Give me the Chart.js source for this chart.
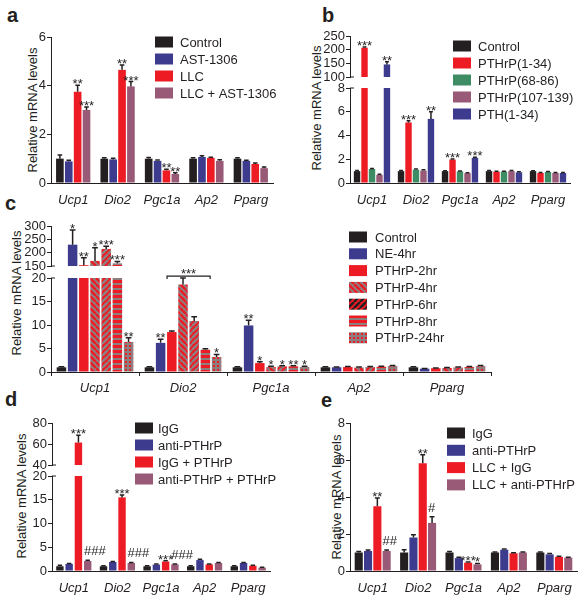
<!DOCTYPE html>
<html>
<head>
<meta charset="utf-8">
<script src="https://cdn.jsdelivr.net/npm/chart.js@4.4.0/dist/chart.umd.min.js"></script>
<style>
  body { margin: 0; background: #fff; width: 587px; height: 600px; position: relative; overflow: hidden;
         font-family: "Liberation Sans", Arial, sans-serif; color: #231f20; }
  canvas { position: absolute; }
  .letter { position: absolute; font-weight: bold; font-size: 20px; line-height: 20px; }
  .ytitle { position: absolute; font-size: 13px; white-space: nowrap; transform: translate(-50%, -50%) rotate(-90deg); }
</style>
</head>
<body>
<div class="letter" style="left:7px;top:5px">a</div>
<div class="letter" style="left:322px;top:5px">b</div>
<div class="letter" style="left:5px;top:193px">c</div>
<div class="letter" style="left:5px;top:389px">d</div>
<div class="letter" style="left:321px;top:390px">e</div>

<div class="ytitle" style="left:32px;top:110px">Relative mRNA levels</div>
<div class="ytitle" style="left:316px;top:108px">Relative mRNA levels</div>
<div class="ytitle" style="left:16px;top:293px">Relative mRNA levels</div>
<div class="ytitle" style="left:21px;top:496px">Relative mRNA levels</div>
<div class="ytitle" style="left:336px;top:497px">Relative mRNA levels</div>

<canvas id="ca" width="290" height="212" style="left:0;top:0"></canvas>
<canvas id="cbBot" width="297" height="212" style="left:290px;top:0"></canvas>
<canvas id="cbTop" width="297" height="212" style="left:290px;top:0"></canvas>
<canvas id="ccBot" width="587" height="200" style="left:0;top:200px"></canvas>
<canvas id="ccTop" width="587" height="200" style="left:0;top:200px"></canvas>
<canvas id="cdBot" width="290" height="195" style="left:0;top:405px"></canvas>
<canvas id="cdTop" width="290" height="195" style="left:0;top:405px"></canvas>
<canvas id="ce" width="297" height="195" style="left:290px;top:405px"></canvas>

<script>
const genes = ['Ucp1', 'Dio2', 'Pgc1a', 'Ap2', 'Pparg'];

// panel a
const aLabels = ['Control', 'AST-1306', 'LLC', 'LLC + AST-1306'];
const aControl = [1.0, 1.0, 1.0, 1.0, 1.0];
const aAst = [0.89, 0.97, 0.91, 1.07, 0.91];
const aLlc = [3.75, 4.65, 0.52, 1.03, 0.78];
const aLlcAst = [3.0, 3.97, 0.37, 0.91, 0.61];
const aControlErr = [0.15, 0.04, 0.05, 0.04, 0.04];
const aAstErr = [0.04, 0.05, 0.04, 0.05, 0.03];
const aLlcErr = [0.27, 0.2, 0.04, 0.03, 0.04];
const aLlcAstErr = [0.12, 0.2, 0.05, 0.05, 0.05];
const aLlcMarks = ['**', '**', '**', '', ''];
const aLlcAstMarks = ['***', '***', '**', '', ''];

// panel b
const bLabels = ['Control', 'PTHrP(1-34)', 'PTHrP(68-86)', 'PTHrP(107-139)', 'PTH(1-34)'];
const bControl = [1.0, 1.0, 1.0, 1.0, 1.0];
const b134 = [207, 5.1, 1.97, 0.95, 0.84];
const b6886 = [1.18, 1.12, 0.98, 0.96, 0.93];
const b107 = [0.68, 1.05, 0.83, 1.0, 0.84];
const bPth = [146, 5.4, 2.12, 0.9, 0.84];
const bControlErr = [0.05, 0.06, 0.04, 0.05, 0.04];
const b134Err = [3, 0.15, 0.06, 0.05, 0.04];
const b6886Err = [0.05, 0.05, 0.04, 0.04, 0.04];
const b107Err = [0.05, 0.06, 0.04, 0.05, 0.04];
const bPthErr = [10, 0.6, 0.05, 0.04, 0.04];
const b134Marks = ['***', '***', '***', '', ''];
const bPthMarks = ['**', '**', '***', '', ''];

// panel c
const cLabels = ['Control', 'NE-4hr', 'PTHrP-2hr', 'PTHrP-4hr', 'PTHrP-6hr', 'PTHrP-8hr', 'PTHrP-24hr'];
const cControl = [1.0, 1.0, 1.0, 1.0, 1.0];
const cNe = [230, 6.2, 9.9, 1.0, 0.7];
const c2hr = [153, 8.5, 1.9, 1.05, 0.8];
const c4hr = [169, 18.6, 1.05, 0.95, 0.85];
const c6hr = [214, 10.85, 1.2, 1.05, 0.95];
const c8hr = [160, 4.75, 1.2, 1.1, 1.05];
const c24hr = [6.4, 3.2, 1.06, 1.25, 1.25];
const cControlErr = [0.1, 0.1, 0.1, 0.1, 0.1];
const cNeErr = [55, 0.75, 1.1, 0.05, 0.05];
const c2hrErr = [28, 0.2, 0.3, 0.1, 0.05];
const c4hrErr = [49, 1.4, 0.15, 0.1, 0.1];
const c6hrErr = [10, 0.9, 0.15, 0.1, 0.1];
const c8hrErr = [7, 0.2, 0.15, 0.1, 0.1];
const c24hrErr = [0.9, 0.55, 0.15, 0.15, 0.15];
const cNeMarks = ['*', '**', '**', '', ''];
const c2hrMarks = ['**', '', '*', '', ''];
const c4hrMarks = ['*', '', '*', '', ''];
const c6hrMarks = ['***', '', '*', '', ''];
const c8hrMarks = ['***', '', '**', '', ''];
const c24hrMarks = ['**', '*', '*', '', ''];

// panel d
const dLabels = ['IgG', 'anti-PTHrP', 'IgG + PTHrP', 'anti-PTHrP + PTHrP'];
const dIgg = [1.0, 1.0, 1.0, 1.0, 1.0];
const dAnti = [1.5, 1.9, 1.35, 2.3, 1.7];
const dIggP = [61.4, 15.5, 2.0, 1.4, 1.1];
const dAntiP = [2.1, 1.7, 1.4, 1.7, 0.7];
const dIggErr = [0.2, 0.1, 0.1, 0.1, 0.1];
const dAntiErr = [0.1, 0.1, 0.1, 0.15, 0.1];
const dIggPErr = [7, 0.5, 0.15, 0.1, 0.1];
const dAntiPErr = [0.15, 0.1, 0.1, 0.1, 0.1];
const dIggPMarks = ['***', '***', '***', '', ''];
const dAntiPMarks = ['###', '###', '###', '', ''];

// panel e
const eLabels = ['IgG', 'anti-PTHrP', 'LLC + IgG', 'LLC + anti-PTHrP'];
const eIgg = [1.0, 1.0, 1.0, 1.0, 1.0];
const eAnti = [1.08, 1.81, 0.7, 1.15, 0.9];
const eLlc = [3.5, 5.83, 0.45, 0.96, 0.76];
const eLlcAnti = [1.08, 2.6, 0.36, 1.0, 0.72];
const eIggErr = [0.05, 0.15, 0.05, 0.03, 0.03];
const eAntiErr = [0.05, 0.15, 0.04, 0.04, 0.04];
const eLlcErr = [0.45, 0.45, 0.04, 0.03, 0.04];
const eLlcAntiErr = [0.06, 0.33, 0.05, 0.03, 0.03];
const eLlcMarks = ['**', '**', '***', '', ''];
const eLlcAntiMarks = ['##', '#', '*', '', ''];

const ink = '#231f20';
const navy = '#3d3b8e';
const red = '#ed1c24';
const mauve = '#995a77';
const green = '#3e8c64';
const grey = '#8d7f80';
const FONT = '"Liberation Sans", Arial, sans-serif';

// fill patterns for the PTHrP time course
function tile(size, draw) {
  const c = document.createElement('canvas');
  c.width = size; c.height = size;
  const g = c.getContext('2d');
  draw(g, size);
  return g.createPattern(c, 'repeat');
}
function diag(base, line, up) {
  return tile(6, (g, s) => {
    g.fillStyle = base; g.fillRect(0, 0, s, s);
    g.strokeStyle = line; g.lineWidth = 2.4;
    g.beginPath();
    for (let k = -1; k <= 1; k++) {
      if (up) { g.moveTo(k * s, s); g.lineTo(k * s + s, 0); }
      else { g.moveTo(k * s, 0); g.lineTo(k * s + s, s); }
    }
    g.stroke();
  });
}
const hStripes = tile(5, (g, s) => { g.fillStyle = red; g.fillRect(0, 0, s, s); g.fillStyle = grey; g.fillRect(0, 3, s, 2); });
const dots = tile(4, (g, s) => { g.fillStyle = grey; g.fillRect(0, 0, s, s); g.fillStyle = red; g.fillRect(1, 1, 2, 2); });

function ds(label, data, color, errors, marks, legendFill) {
  return { label: label, data: data, backgroundColor: color, errors: errors, marks: marks,
           legendFill: legendFill, clip: 0, borderWidth: 0 };
}

// error bars and significance marks
const errorBars = {
  id: 'errorBars',
  afterDatasetsDraw(chart) {
    const ctx = chart.ctx, y = chart.scales.y;
    ctx.save();
    ctx.strokeStyle = ink; ctx.fillStyle = ink; ctx.lineWidth = 1.5;
    ctx.font = '13px ' + FONT; ctx.textBaseline = 'alphabetic';
    chart.data.datasets.forEach((d, i) => {
      chart.getDatasetMeta(i).data.forEach((bar, j) => {
        const v = d.data[j];
        if (v < y.min || v > y.max) return;
        const e = d.errors ? d.errors[j] : 0;
        const top = y.getPixelForValue(v + e);
        if (e > 0) {
          const hw = bar.width * 0.3;
          ctx.beginPath();
          ctx.moveTo(bar.x, y.getPixelForValue(v)); ctx.lineTo(bar.x, top);
          ctx.moveTo(bar.x - hw, top); ctx.lineTo(bar.x + hw, top);
          ctx.stroke();
        }
        const m = d.marks ? d.marks[j] : '';
        if (m) {
          if (m[0] === '#') { ctx.textAlign = 'left'; ctx.fillText(m, bar.x - bar.width / 2, top - 5); }
          else { ctx.textAlign = 'center'; ctx.fillText(m, bar.x, top + 3); }
        }
      });
    });
    ctx.restore();
  }
};

const boxLegend = {
  id: 'boxLegend',
  afterDraw(chart, args, o) {
    if (!o || o.x === undefined) return;
    const ctx = chart.ctx;
    ctx.save();
    ctx.font = '13px ' + FONT; ctx.textBaseline = 'middle'; ctx.textAlign = 'left';
    chart.data.datasets.forEach((d, i) => {
      const cy = o.y + i * o.row;
      ctx.fillStyle = d.legendFill || d.backgroundColor;
      ctx.fillRect(o.x, cy - 5.5, 18, 11);
      ctx.fillStyle = ink;
      ctx.fillText(d.label, o.x + o.gap, cy + 1);
    });
    ctx.restore();
  }
};

const bracket = {
  id: 'bracket',
  afterDraw(chart, args, o) {
    if (!o || o.cat === undefined) return;
    const ctx = chart.ctx;
    const a = chart.getDatasetMeta(o.from).data[o.cat];
    const b = chart.getDatasetMeta(o.to).data[o.cat];
    const y = chart.scales.y.getPixelForValue(o.value);
    const x1 = a.x - a.width / 2, x2 = b.x + b.width / 2;
    ctx.save();
    ctx.strokeStyle = ink; ctx.lineWidth = 1.2;
    ctx.beginPath();
    ctx.moveTo(x1, y + 3); ctx.lineTo(x1, y); ctx.lineTo(x2, y); ctx.lineTo(x2, y + 3);
    ctx.stroke();
    ctx.fillStyle = ink; ctx.font = '13px ' + FONT; ctx.textAlign = 'center';
    ctx.fillText(o.text, (x1 + x2) / 2, y + 2);
    ctx.restore();
  }
};

// small tick to the right of the y axis where it is broken
const breakMark = {
  id: 'breakMark',
  afterDraw(chart, args, o) {
    if (!o || !o.at) return;
    const ctx = chart.ctx, area = chart.chartArea;
    const y = o.at === 'top' ? area.top : area.bottom;
    ctx.save();
    ctx.strokeStyle = ink; ctx.lineWidth = 1;
    ctx.beginPath(); ctx.moveTo(area.left, y); ctx.lineTo(area.left + 4, y); ctx.stroke();
    ctx.restore();
  }
};

function makeChart(id, sets, o) {
  const showX = o.showX !== false;
  return new Chart(document.getElementById(id), {
    type: 'bar',
    data: { labels: genes, datasets: sets },
    options: {
      responsive: false,
      animation: false,
      events: [],
      layout: { padding: { left: 0, right: o.right, top: o.top, bottom: o.bottom } },
      datasets: { bar: { categoryPercentage: o.cat, barPercentage: o.bar } },
      scales: {
        x: {
          display: showX,
          grid: { display: !!o.xTicks, drawOnChartArea: false, tickLength: 4, color: ink },
          border: { display: true, color: ink, width: 1 },
          ticks: { color: ink, padding: o.xTicks ? 5 : 6, autoSkip: false, maxRotation: 0,
                   font: { family: FONT, size: 13, style: 'italic' } },
          afterFit: s => { s.height = showX ? 26 : 0; }
        },
        y: {
          min: o.min, max: o.max,
          grid: { drawOnChartArea: false, tickLength: 4, color: ink },
          border: { display: true, color: ink, width: 1 },
          ticks: { stepSize: o.step, autoSkip: false, color: ink, padding: 1, font: { family: FONT, size: 13 } },
          afterFit: s => { s.width = o.yw; }
        }
      },
      plugins: {
        legend: { display: false },
        tooltip: { enabled: false },
        boxLegend: o.legend || {},
        bracket: o.bracket || {},
        breakMark: { at: o.brk }
      }
    },
    plugins: [errorBars, boxLegend, bracket, breakMark]
  });
}

// a
makeChart('ca', [
  ds(aLabels[0], aControl, ink, aControlErr),
  ds(aLabels[1], aAst, navy, aAstErr),
  ds(aLabels[2], aLlc, red, aLlcErr, aLlcMarks),
  ds(aLabels[3], aLlcAst, mauve, aLlcAstErr, aLlcAstMarks)
], { top: 37, bottom: 3, right: 17, yw: 51, min: 0, max: 6, step: 2, cat: 0.8, bar: 0.86,
     legend: { x: 155, y: 42, row: 17, gap: 25 } });

// b
function bSets() {
  return [
    ds(bLabels[0], bControl, ink, bControlErr),
    ds(bLabels[1], b134, red, b134Err, b134Marks),
    ds(bLabels[2], b6886, green, b6886Err),
    ds(bLabels[3], b107, mauve, b107Err),
    ds(bLabels[4], bPth, navy, bPthErr, bPthMarks)
  ];
}
makeChart('cbTop', bSets(), { top: 36, bottom: 135, right: 17, yw: 60, min: 100, max: 250, step: 50,
     cat: 0.85, bar: 0.86, showX: false, brk: 'bottom' });
makeChart('cbBot', bSets(), { top: 88, bottom: 3, right: 17, yw: 60, min: 0, max: 8, step: 2,
     cat: 0.85, bar: 0.86, brk: 'top', legend: { x: 163, y: 46, row: 17, gap: 25 } });

// c
function cSets() {
  return [
    ds(cLabels[0], cControl, ink, cControlErr),
    ds(cLabels[1], cNe, navy, cNeErr, cNeMarks),
    ds(cLabels[2], c2hr, red, c2hrErr, c2hrMarks),
    ds(cLabels[3], c4hr, diag(grey, red, false), c4hrErr, c4hrMarks),
    ds(cLabels[4], c6hr, diag(red, grey, true), c6hrErr, c6hrMarks, diag(red, ink, true)),
    ds(cLabels[5], c8hr, hStripes, c8hrErr, c8hrMarks),
    ds(cLabels[6], c24hr, dots, c24hrErr, c24hrMarks)
  ];
}
makeChart('ccTop', cSets(), { top: 26, bottom: 134, right: 96, yw: 51, min: 150, max: 300, step: 50,
     cat: 0.89, bar: 0.85, showX: false, brk: 'bottom' });
makeChart('ccBot', cSets(), { top: 78, bottom: 2, right: 96, yw: 51, min: 0, max: 20, step: 5,
     cat: 0.89, bar: 0.85, xTicks: true, brk: 'top',
     legend: { x: 349, y: 37, row: 16.8, gap: 26 },
     bracket: { cat: 1, from: 2, to: 5, value: 20.4, text: '***' } });

// d
function dSets() {
  return [
    ds(dLabels[0], dIgg, ink, dIggErr),
    ds(dLabels[1], dAnti, navy, dAntiErr),
    ds(dLabels[2], dIggP, red, dIggPErr, dIggPMarks),
    ds(dLabels[3], dAntiP, mauve, dAntiPErr, dAntiPMarks)
  ];
}
makeChart('cdTop', dSets(), { top: 18, bottom: 135, right: 20, yw: 52, min: 40, max: 80, step: 20,
     cat: 0.85, bar: 0.8, showX: false, brk: 'bottom' });
makeChart('cdBot', dSets(), { top: 71, bottom: 3, right: 20, yw: 52, min: 0, max: 20, step: 5,
     cat: 0.85, bar: 0.8, brk: 'top', legend: { x: 135, y: 23, row: 17, gap: 23 } });

// e
makeChart('ce', [
  ds(eLabels[0], eIgg, ink, eIggErr),
  ds(eLabels[1], eAnti, navy, eAntiErr),
  ds(eLabels[2], eLlc, red, eLlcErr, eLlcMarks),
  ds(eLabels[3], eLlcAnti, mauve, eLlcAntiErr, eLlcAntiMarks)
], { top: 18, bottom: 3, right: 10, yw: 60, min: 0, max: 8, step: 2, cat: 0.82, bar: 0.87,
     legend: { x: 157, y: 28, row: 17.3, gap: 25 } });
</script>
</body>
</html>
